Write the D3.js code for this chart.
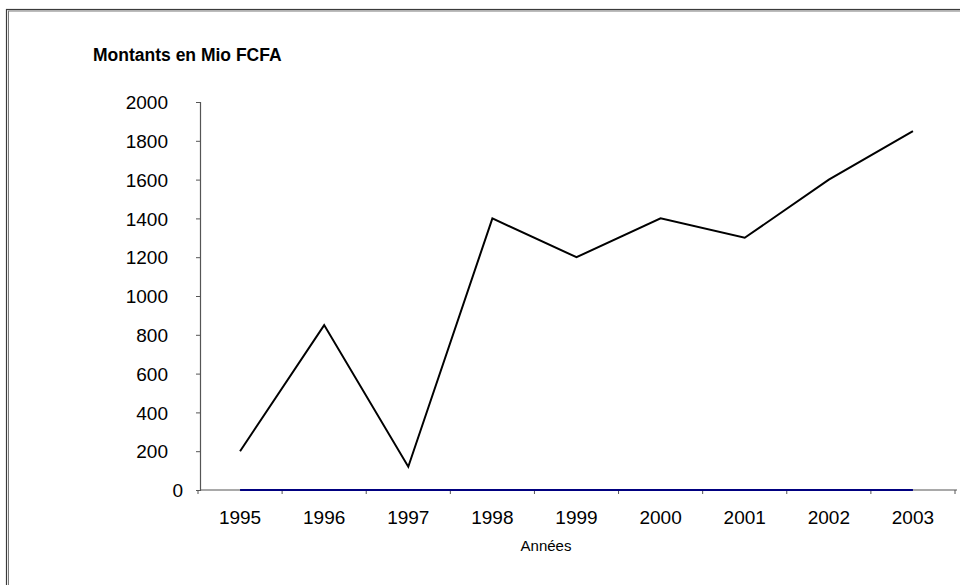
<!DOCTYPE html>
<html>
<head>
<meta charset="utf-8">
<script src="https://cdn.jsdelivr.net/npm/d3@7"></script>
<style>
  html, body { margin: 0; padding: 0; background: #fff; }
  svg { display: block; }
  text { font-family: Arial, "Liberation Sans", sans-serif; fill: #000; }
</style>
</head>
<body>
<svg id="chart" width="960" height="585"></svg>
<script>
// Années et montants (en millions de FCFA)
const years = ["1995", "1996", "1997", "1998", "1999", "2000", "2001", "2002", "2003"];
const montants = [200, 850, 120, 1400, 1200, 1400, 1300, 1600, 1850];
const serieZero = [0, 0, 0, 0, 0, 0, 0, 0, 0];
const yTicks = [0, 200, 400, 600, 800, 1000, 1200, 1400, 1600, 1800, 2000];

const svg = d3.select("#chart");
const W = 960, H = 585;
const margin = { left: 200, right: 5, top: 102, bottom: 95 };

// Cadre du graphique (bord gauche et haut visibles)
svg.append("rect")
  .attr("x", 6.5).attr("y", 9.5)
  .attr("width", W + 20).attr("height", H + 20)
  .attr("fill", "none").attr("stroke", "#3a3a3a").attr("stroke-width", 1.2);
svg.append("rect")
  .attr("x", 8.5).attr("y", 11)
  .attr("width", W + 20).attr("height", H + 20)
  .attr("fill", "none").attr("stroke", "#7a7a7a").attr("stroke-width", 1);

const x = d3.scaleBand()
  .domain(years)
  .range([margin.left - 2, W - margin.right])
  .paddingInner(0).paddingOuter(0);

const y = d3.scaleLinear()
  .domain([0, 2000])
  .range([H - margin.bottom, margin.top]);

const cx = d => x(d) + x.bandwidth() / 2;

// Axe vertical
const yAxis = svg.append("g")
  .attr("transform", `translate(${margin.left},0)`)
  .call(d3.axisLeft(y).tickValues(yTicks).tickSize(4).tickFormat(d3.format("d")));
yAxis.select(".domain").attr("stroke", "#555").attr("stroke-width", 1.2);
yAxis.selectAll(".tick line").attr("stroke", "#555");
yAxis.selectAll(".tick text")
  .attr("x", d => d === 0 ? -17 : -32)
  .attr("dy", "0.35em")
  .style("font-size", "19px").attr("fill", "#000");

// Axe horizontal (graduations entre les catégories)
const xAxis = svg.append("g")
  .attr("transform", `translate(0,${y(0)})`);
xAxis.append("line")
  .attr("x1", margin.left).attr("x2", W - margin.right + 2)
  .attr("stroke", "#555").attr("stroke-width", 1.2);
const bounds = years.map(d => x(d)).concat([x(years[years.length - 1]) + x.bandwidth()]);
xAxis.selectAll("line.tk")
  .data(bounds)
  .join("line")
  .attr("class", "tk")
  .attr("x1", d => d).attr("x2", d => d)
  .attr("y1", 0).attr("y2", 4)
  .attr("stroke", "#555");
xAxis.selectAll("text.lbl")
  .data(years)
  .join("text")
  .attr("class", "lbl")
  .attr("x", d => cx(d))
  .attr("y", 34)
  .attr("text-anchor", "middle")
  .style("font-size", "19px")
  .text(d => d);

const line = d3.line()
  .x((d, i) => cx(years[i]))
  .y(d => y(d));

// Série nulle (bleu foncé)
svg.append("path")
  .datum(serieZero)
  .attr("d", line)
  .attr("fill", "none")
  .attr("stroke", "#000080")
  .attr("stroke-width", 2);

// Montants
svg.append("path")
  .datum(montants)
  .attr("d", line)
  .attr("fill", "none")
  .attr("stroke", "#000")
  .attr("stroke-width", 2)
  .attr("stroke-linejoin", "miter");

// Titres
svg.append("text")
  .attr("x", 93).attr("y", 61)
  .style("font-size", "17.5px").style("font-weight", "bold")
  .text("Montants en Mio FCFA");

svg.append("text")
  .attr("x", 546).attr("y", 551)
  .attr("text-anchor", "middle")
  .style("font-size", "15px")
  .text("Années");
</script>
</body>
</html>
